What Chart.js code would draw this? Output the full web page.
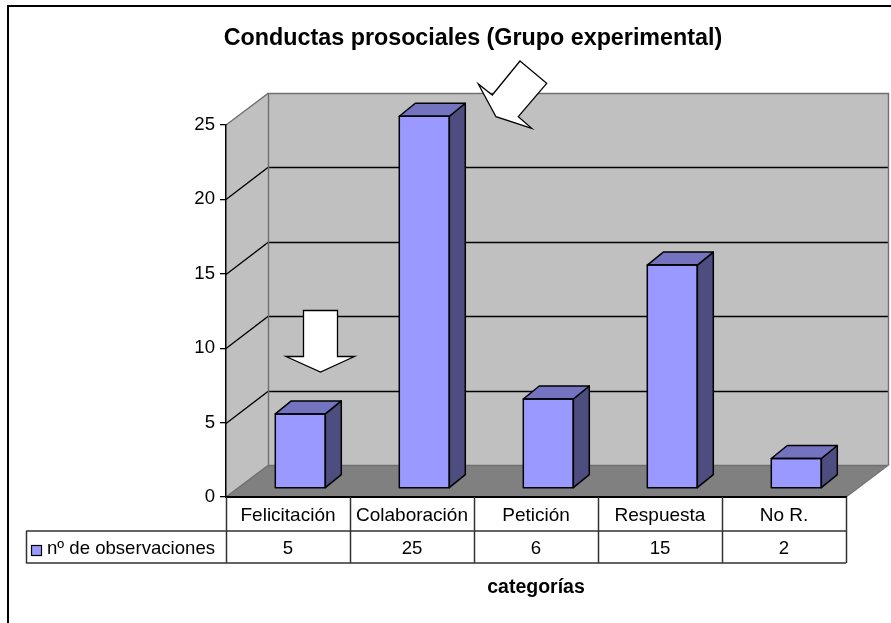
<!DOCTYPE html>
<html>
<head>
<meta charset="utf-8">
<title>Conductas prosociales</title>
<script src="https://cdn.jsdelivr.net/npm/chart.js@4"></script>
<style>
html, body { margin: 0; padding: 0; background: #fff; }
canvas { display: block; }
</style>
</head>
<body>
<canvas id="chart" width="891" height="623"></canvas>
<script>
const categories = ['Felicitación', 'Colaboración', 'Petición', 'Respuesta', 'No R.'];
const observaciones = [5, 25, 6, 15, 2];
const seriesName = 'nº de observaciones';
const chartTitle = 'Conductas prosociales (Grupo experimental)';
const xTitle = 'categorías';

const fontFamily = '"Liberation Sans", Arial, sans-serif';
// fake 3d: how far the back wall sits from the axis plane
const wallDx = 42, wallDy = -32;
// bars stand a bit inside the floor, and have their own depth
const barDx = 12.3, barDy = -8.7;
const sideDx = 16, sideDy = -13;

function poly(ctx, pts, fill, stroke, lw) {
    ctx.beginPath();
    pts.forEach((p, i) => i ? ctx.lineTo(p[0], p[1]) : ctx.moveTo(p[0], p[1]));
    ctx.closePath();
    if (fill) { ctx.fillStyle = fill; ctx.fill(); }
    if (stroke) { ctx.strokeStyle = stroke; ctx.lineWidth = lw || 1; ctx.stroke(); }
}

const box3d = {
    id: 'box3d',
    beforeDraw(chart) {
        const ctx = chart.ctx;
        const a = chart.chartArea;
        const y = chart.scales.y;
        ctx.save();
        // outer frame, cut by the image on the right and bottom
        ctx.strokeStyle = '#000';
        ctx.lineWidth = 2;
        ctx.beginPath();
        ctx.moveTo(8, 623);
        ctx.lineTo(8, 6);
        ctx.lineTo(891, 6);
        ctx.stroke();

        const top = a.top, bot = a.bottom, l = a.left, r = a.right;
        // side wall, back wall, floor
        poly(ctx, [[l, top], [l + wallDx, top + wallDy], [l + wallDx, bot + wallDy], [l, bot]], '#c0c0c0');
        poly(ctx, [[l + wallDx, top + wallDy], [r + wallDx, top + wallDy], [r + wallDx, bot + wallDy], [l + wallDx, bot + wallDy]], '#c0c0c0');
        poly(ctx, [[l, bot], [l + wallDx, bot + wallDy], [r + wallDx, bot + wallDy], [r, bot]], '#808080');

        // gridlines
        ctx.strokeStyle = '#000';
        ctx.lineWidth = 1.3;
        y.ticks.forEach(t => {
            if (t.value === 0 || t.value === y.max) return;
            const py = Math.round(y.getPixelForValue(t.value)) + 0.5;
            ctx.beginPath();
            ctx.moveTo(l, py);
            ctx.lineTo(l + wallDx, py + wallDy);
            ctx.lineTo(r + wallDx, py + wallDy);
            ctx.stroke();
        });

        // wall edges
        ctx.strokeStyle = '#707070';
        ctx.lineWidth = 1.4;
        ctx.beginPath();
        ctx.moveTo(l, top);
        ctx.lineTo(l + wallDx, top + wallDy + 0.5);
        ctx.lineTo(r + wallDx + 0.5, top + wallDy + 0.5);
        ctx.lineTo(r + wallDx + 0.5, bot + wallDy);
        ctx.lineTo(r, bot);
        ctx.moveTo(l + wallDx + 0.5, top + wallDy);
        ctx.lineTo(l + wallDx + 0.5, bot + wallDy);
        ctx.moveTo(l, bot);
        ctx.lineTo(l + wallDx, bot + wallDy + 0.5);
        ctx.lineTo(r + wallDx, bot + wallDy + 0.5);
        ctx.stroke();
        ctx.restore();
    },
    beforeDatasetsDraw(chart) {
        chart.ctx.save();
        chart.ctx.translate(barDx, barDy);
    },
    afterDatasetsDraw(chart) {
        const ctx = chart.ctx;
        chart.getDatasetMeta(0).data.forEach(bar => {
            const x0 = bar.x - bar.width / 2, x1 = bar.x + bar.width / 2;
            const top = bar.y, base = bar.base;
            ctx.lineJoin = 'round';
            poly(ctx, [[x1, top], [x1 + sideDx, top + sideDy], [x1 + sideDx, base + sideDy], [x1, base]], '#4d4d80', '#000', 1.5);
            poly(ctx, [[x0, top], [x0 + sideDx, top + sideDy], [x1 + sideDx, top + sideDy], [x1, top]], '#7373bf', '#000', 1.5);
            // front outline again, the side faces draw over it
            ctx.strokeStyle = '#000';
            ctx.lineWidth = 1.5;
            ctx.strokeRect(x0, top, bar.width, base - top);
        });
        ctx.restore();
    },
    afterDraw(chart) {
        const ctx = chart.ctx;
        const a = chart.chartArea;
        const x = chart.scales.x;
        const rowTop = a.bottom, rowMid = 531, rowBot = 563, legendLeft = 26;
        ctx.save();

        // data table
        ctx.strokeStyle = '#333';
        ctx.lineWidth = 1.5;
        ctx.beginPath();
        ctx.moveTo(legendLeft, rowMid); ctx.lineTo(a.right, rowMid);
        ctx.moveTo(legendLeft, rowBot); ctx.lineTo(a.right, rowBot);
        ctx.moveTo(legendLeft + 0.5, rowMid); ctx.lineTo(legendLeft + 0.5, rowBot);
        ctx.moveTo(a.left + 0.5, rowTop); ctx.lineTo(a.left + 0.5, rowBot);
        categories.forEach((c, i) => {
            const edge = Math.round(x.getPixelForValue(i) + x.width / categories.length / 2) + 0.5;
            ctx.moveTo(edge, rowTop); ctx.lineTo(edge, rowBot);
        });
        ctx.stroke();

        ctx.font = '18.6px ' + fontFamily;
        ctx.fillStyle = '#000';
        ctx.textBaseline = 'middle';
        ctx.textAlign = 'center';
        observaciones.forEach((v, i) => ctx.fillText(String(v), x.getPixelForValue(i), 549));

        ctx.textAlign = 'left';
        ctx.fillText(seriesName, 47, 549);
        ctx.fillStyle = '#9999ff';
        ctx.fillRect(31, 545, 10, 10);
        ctx.strokeStyle = '#000';
        ctx.lineWidth = 1.2;
        ctx.strokeRect(31.5, 545.5, 10, 10);

        // the two hand drawn arrows
        poly(ctx, [[303.5, 310.5], [337.5, 310.5], [337.5, 356.5], [354.5, 356.5], [320.5, 372], [286, 356.5], [303.5, 356.5]], '#fff', '#000', 1.3);
        poly(ctx, [[520, 61], [546.7, 83.3], [518.3, 116.7], [531.7, 128.3], [496, 116.7], [478.3, 84], [492.3, 95]], '#fff', '#000', 1.3);
        ctx.restore();
    }
};

const ctx = document.getElementById('chart').getContext('2d');
new Chart(ctx, {
    type: 'bar',
    data: {
        labels: categories,
        datasets: [{
            label: seriesName,
            data: observaciones,
            backgroundColor: '#9999ff',
            borderColor: '#000',
            borderWidth: 0,
            barThickness: 50
        }]
    },
    options: {
        responsive: false,
        animation: false,
        layout: { padding: { left: 100, right: 45, top: 0, bottom: 0 } },
        plugins: {
            legend: { display: false },
            tooltip: { enabled: false },
            title: {
                display: true,
                text: chartTitle,
                color: '#000',
                font: { family: fontFamily, size: 23.3, weight: 'bold', lineHeight: 1.2 },
                padding: { top: 25, bottom: 72 }
            }
        },
        scales: {
            x: {
                afterFit(s) { s.height = 126; },
                grid: { display: false, drawTicks: false },
                border: { color: '#000', width: 2 },
                ticks: { color: '#000', padding: 7, font: { family: fontFamily, size: 19 }, maxRotation: 0 },
                title: {
                    display: true,
                    text: xTitle,
                    color: '#000',
                    font: { family: fontFamily, size: 19.5, weight: 'bold' },
                    padding: { top: 0, bottom: 23.5 }
                }
            },
            y: {
                min: 0,
                max: 25,
                afterFit(s) { s.width = 126; },
                grid: { drawOnChartArea: false, drawTicks: true, tickLength: 6, color: '#000', lineWidth: 1.3 },
                border: { color: '#000', width: 1.5 },
                ticks: { stepSize: 5, color: '#000', padding: 5, font: { family: fontFamily, size: 18.6 } }
            }
        }
    },
    plugins: [box3d]
});
</script>
</body>
</html>
